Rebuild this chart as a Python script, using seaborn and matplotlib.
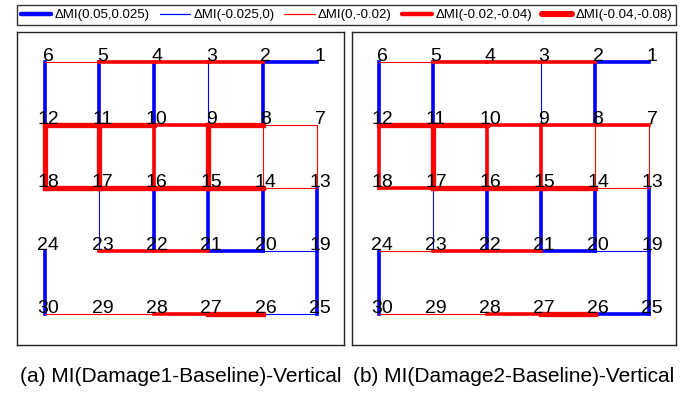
import matplotlib
matplotlib.use("Agg")
import matplotlib.pyplot as plt
from matplotlib.lines import Line2D
import seaborn as sns
import pandas as pd

sns.set_theme(style="white")
plt.rcParams['font.family'] = ['Liberation Sans', 'DejaVu Sans']
plt.rcParams['text.color'] = 'black'

# ---- data ----
node_ids = list(range(1, 31))
edges = [
    (6, 5), (5, 4), (4, 3), (3, 2), (2, 1),
    (12, 11), (11, 10), (10, 9), (9, 8), (8, 7),
    (18, 17), (17, 16), (16, 15), (15, 14), (14, 13),
    (24, 23), (23, 22), (22, 21), (21, 20), (20, 19),
    (30, 29), (29, 28), (28, 27), (27, 26), (26, 25),
    (6, 12), (5, 11), (4, 10), (3, 9), (2, 8), (1, 7),
    (12, 18), (11, 17), (10, 16), (9, 15), (8, 14), (7, 13),
    (18, 24), (17, 23), (16, 22), (15, 21), (14, 20), (13, 19),
    (24, 30), (23, 29), (22, 28), (21, 27), (20, 26), (19, 25),
]
# category per edge (0 = no line)
cats_damage1 = [
    3, 4, 4, 4, 1,
    5, 5, 4, 5, 3,
    5, 5, 5, 5, 3,
    0, 4, 4, 1, 2,
    3, 3, 4, 5, 2,
    1, 1, 1, 2, 1, 0,
    5, 5, 4, 5, 3, 3,
    0, 2, 1, 1, 1, 1,
    1, 0, 0, 0, 0, 1,
]
cats_damage2 = [
    3, 4, 4, 4, 1,
    5, 5, 4, 4, 4,
    4, 5, 5, 5, 3,
    3, 4, 4, 1, 2,
    3, 3, 4, 5, 1,
    1, 1, 0, 2, 1, 0,
    4, 5, 4, 4, 3, 3,
    0, 2, 1, 1, 1, 1,
    1, 0, 0, 0, 0, 1,
]
legend_labels = ["\u0394MI(0.05,0.025)", "\u0394MI(-0.025,0)", "\u0394MI(0,-0.02)",
                 "\u0394MI(-0.02,-0.04)", "\u0394MI(-0.04,-0.08)"]
captions = ["(a) MI(Damage1-Baseline)-Vertical", "(b) MI(Damage2-Baseline)-Vertical"]

# ---- styles ----
cat_colors = {1: "#0000ff", 2: "#0000ff", 3: "#ff0000", 4: "#ff0000", 5: "#ff0000"}
cat_widths = {1: 2.6, 2: 0.8, 3: 0.8, 4: 2.6, 5: 3.8}


def node_pos(n):
    r = (n - 1) // 6
    c = 5 - (n - 1) % 6
    return c, r


def edge_frame(cats):
    rows = []
    for k, ((a, b), cat) in enumerate(zip(edges, cats)):
        if cat == 0:
            continue
        for n in (a, b):
            x, y = node_pos(n)
            rows.append({"edge": k, "x": x, "y": y, "cat": cat})
    return pd.DataFrame(rows)


fig = plt.figure(figsize=(6.89, 4.12), dpi=100)
W, H = 689, 412
panels = [
    (17, 344, -0.515, 5.496, cats_damage1),
    (352, 676, -0.5, 5.5, cats_damage2),
]
top_px, bot_px = 32, 345
for i, (l, r, x0, x1, cats) in enumerate(panels):
    ax = fig.add_axes([l / W, 1 - bot_px / H, (r - l) / W, (bot_px - top_px) / H])
    df = edge_frame(cats)
    for cat in [1, 2, 3, 4, 5]:
        sub = df[df["cat"] == cat]
        if sub.empty:
            continue
        sns.lineplot(data=sub, x="x", y="y", units="edge", estimator=None, sort=False,
                     color=cat_colors[cat], linewidth=cat_widths[cat], ax=ax,
                     legend=False, solid_capstyle="projecting")
    for n in node_ids:
        x, y = node_pos(n)
        ax.text(x + 0.055, y - 0.02, str(n), ha="center", va="baseline",
                fontsize=14, color="black")
    ax.set_xlim(x0, x1)
    ax.set_ylim(4.49, -0.476)
    ax.set_xticks([])
    ax.set_yticks([])
    ax.set_xlabel("")
    ax.set_ylabel("")
    for s in ax.spines.values():
        s.set_visible(True)
        s.set_color("#222222")
        s.set_linewidth(1.0)
    fig.text((l + r) / 2 / W, 1 - 377 / H, captions[i], ha="center", va="center",
             fontsize=15, color="black")

handles = [Line2D([0], [0], color=cat_colors[c], lw=cat_widths[c] + 0.6 if c != 2 and c != 3 else 0.9)
           for c in [1, 2, 3, 4, 5]]
leg = fig.legend(handles, legend_labels, loc="center", ncol=5,
                 bbox_to_anchor=(346.5 / W, 1 - 15 / H), fontsize=9.5,
                 handlelength=2.3, handletextpad=0.25, columnspacing=0.75,
                 borderpad=0.3, frameon=True, fancybox=False)
leg.get_frame().set_edgecolor("black")
leg.get_frame().set_linewidth(1.0)
for t in leg.get_texts():
    t.set_color("black")

fig.savefig("out.png", dpi=100)
